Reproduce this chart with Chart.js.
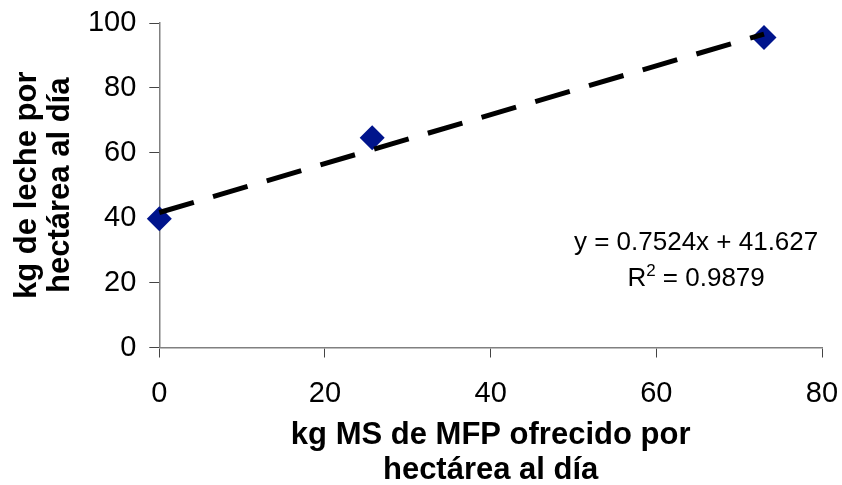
<!DOCTYPE html>
<html>
<head>
<meta charset="utf-8">
<script src="https://cdn.jsdelivr.net/npm/chart.js"></script>
<style>
  html, body { margin: 0; padding: 0; background: #fff; }
  #wrap { width: 842px; height: 485px; }
</style>
</head>
<body>
<div id="wrap"><canvas id="chart"></canvas></div>
<script>
  // values
  const forageX = [0, 25.7, 73.0];
  const milkY = [39.7, 64.6, 95.5];
  const trendX = [0, 73.0];
  const trendY = [41.6, 96.6];
  const eqLine = 'y = 0.7524x + 41.627';
  const r2Value = '0.9879';
  const xTitle = ['kg MS de MFP ofrecido por', 'hectárea al día'];
  const yTitle = ['kg de leche por', 'hectárea al día'];

  const FONT = "'Liberation Sans', Arial, Helvetica, sans-serif";

  const toPoints = (xs, ys) => xs.map((x, i) => ({ x: x, y: ys[i] }));

  // regression label written next to the trend line
  const equationLabel = {
    id: 'equationLabel',
    afterDatasetsDraw: (chart) => {
      const ctx = chart.ctx;
      const xs = chart.scales.x;
      const ys = chart.scales.y;
      const cx = xs.getPixelForValue(64.8);
      ctx.save();
      ctx.fillStyle = '#000';
      ctx.textBaseline = 'alphabetic';
      ctx.font = `26px ${FONT}`;
      ctx.textAlign = 'center';
      ctx.fillText(eqLine, cx, ys.getPixelForValue(30.1));

      const y2 = ys.getPixelForValue(19.0);
      const rest = ' = ' + r2Value;
      const wR = ctx.measureText('R').width;
      const wRest = ctx.measureText(rest).width;
      ctx.font = `17px ${FONT}`;
      const wSup = ctx.measureText('2').width;
      let left = cx - (wR + wSup + wRest) / 2;
      ctx.textAlign = 'left';
      ctx.font = `26px ${FONT}`;
      ctx.fillText('R', left, y2);
      ctx.font = `17px ${FONT}`;
      ctx.fillText('2', left + wR, y2 - 10);
      ctx.font = `26px ${FONT}`;
      ctx.fillText(rest, left + wR + wSup, y2);
      ctx.restore();
    }
  };

  const config = {
    type: 'scatter',
    data: {
      datasets: [{
        label: 'Tendencia',
        data: toPoints(trendX, trendY),
        showLine: true,
        borderColor: '#000',
        borderWidth: 5,
        borderDash: [36, 20],
        borderCapStyle: 'butt',
        pointRadius: 0,
        pointHoverRadius: 0,
        fill: false,
        clip: false
      }, {
        label: 'Leche',
        data: toPoints(forageX, milkY),
        pointStyle: 'rectRot',
        pointRadius: 12.5,
        pointHoverRadius: 12.5,
        backgroundColor: '#00148c',
        borderColor: '#00148c',
        borderWidth: 0,
        clip: false
      }]
    },
    options: {
      responsive: true,
      maintainAspectRatio: false,
      animation: false,
      layout: { padding: { top: 23, right: 20, left: 0, bottom: 0 } },
      plugins: {
        legend: { display: false },
        tooltip: { enabled: false }
      },
      scales: {
        x: {
          type: 'linear',
          position: 'bottom',
          min: 0,
          max: 80,
          afterFit: (s) => {
            s.height = 137.5;
            s.paddingLeft = 0;
            s.paddingRight = 0;
          },
          border: { display: true, color: '#808080', width: 1.5 },
          grid: { drawOnChartArea: false, drawTicks: true, tickLength: 10, color: '#444' },
          ticks: { stepSize: 20, color: '#000', font: { family: FONT, size: 29 }, padding: 19, maxRotation: 0 },
          title: {
            display: true,
            text: xTitle,
            color: '#000',
            font: { family: FONT, size: 31, weight: 'bold', lineHeight: 1.13 },
            padding: { top: 0, bottom: -3 }
          }
        },
        y: {
          type: 'linear',
          min: 0,
          max: 100,
          afterFit: (s) => {
            s.width = 159.3;
            s.paddingTop = 0;
            s.paddingBottom = 0;
          },
          border: { display: true, color: '#808080', width: 1.5 },
          grid: { drawOnChartArea: false, drawTicks: true, tickLength: 10, color: '#444' },
          ticks: { stepSize: 20, color: '#000', font: { family: FONT, size: 29 }, padding: 13 },
          title: {
            display: true,
            text: yTitle,
            color: '#000',
            font: { family: FONT, size: 31, weight: 'bold', lineHeight: 1.07 },
            padding: { top: 11, bottom: 0 }
          }
        }
      }
    },
    plugins: [equationLabel]
  };

  new Chart(document.getElementById('chart'), config);
</script>
</body>
</html>
